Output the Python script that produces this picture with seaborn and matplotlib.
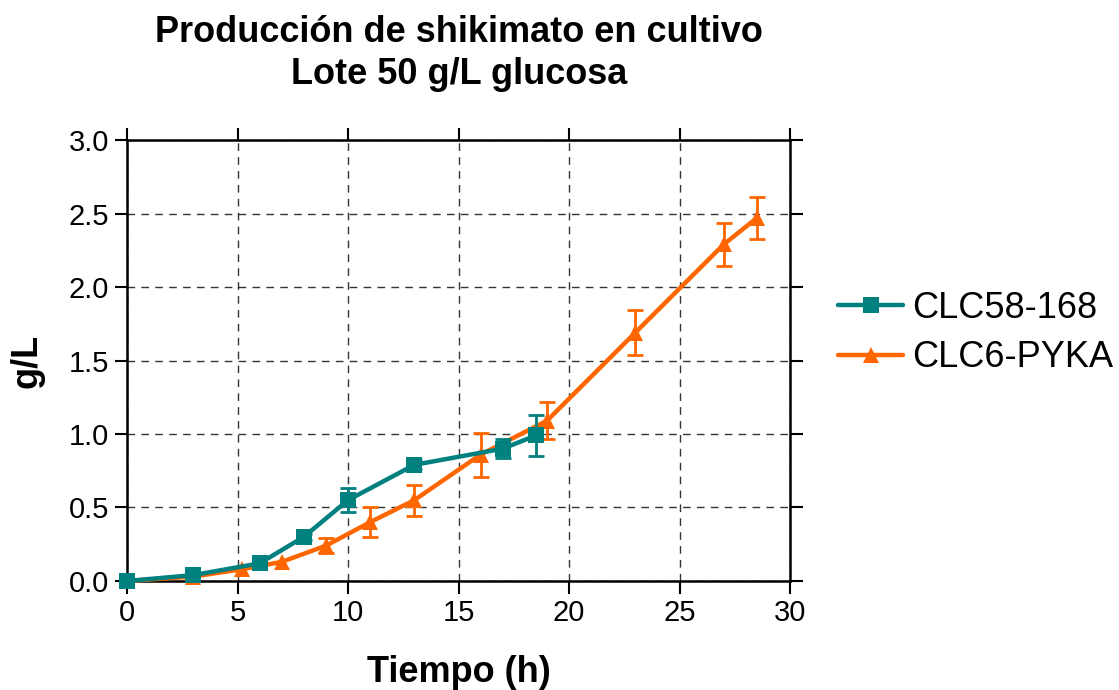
import matplotlib
matplotlib.use("Agg")
import matplotlib.pyplot as plt
import seaborn as sns
import pandas as pd
import numpy as np
from matplotlib.lines import Line2D

sns.set_theme(style="white")
plt.rcParams['font.family'] = ['Liberation Sans', 'DejaVu Sans']
plt.rcParams['text.color'] = 'black'
plt.rcParams['axes.labelcolor'] = 'black'
plt.rcParams['xtick.color'] = 'black'
plt.rcParams['ytick.color'] = 'black'

title = "Producción de shikimato en cultivo\nLote 50 g/L glucosa"
xlabel = "Tiempo (h)"
ylabel = "g/L"

series_names = ["CLC58-168", "CLC6-PYKA"]

t_a = [0, 3, 6, 8, 10, 13, 17, 18.5]
y_a = [0.0, 0.04, 0.12, 0.30, 0.55, 0.79, 0.90, 0.99]
e_a = [0.0, 0.0, 0.0, 0.02, 0.08, 0.03, 0.065, 0.14]

t_b = [0, 3, 5.2, 7, 9, 11, 13, 16, 19, 23, 27, 28.5]
y_b = [0.0, 0.03, 0.08, 0.13, 0.24, 0.40, 0.55, 0.86, 1.09, 1.69, 2.29, 2.47]
e_b = [0.0, 0.0, 0.0, 0.0, 0.05, 0.10, 0.105, 0.15, 0.125, 0.155, 0.145, 0.14]

colors = {"CLC58-168": "#00807e", "CLC6-PYKA": "#ff6600"}
markers = {"CLC58-168": "s", "CLC6-PYKA": "^"}

xticks = [0, 5, 10, 15, 20, 25, 30]
yticks = [0.0, 0.5, 1.0, 1.5, 2.0, 2.5, 3.0]

df_a = pd.DataFrame({"t": t_a, "y": y_a, "e": e_a, "serie": series_names[0]})
df_b = pd.DataFrame({"t": t_b, "y": y_b, "e": e_b, "serie": series_names[1]})

fig = plt.figure(figsize=(11.19, 6.90), dpi=100)
ax = fig.add_axes([0.1135, 0.158, 0.5925, 0.639])

# draw orange first, teal on top
for df, z in [(df_b, 3), (df_a, 4)]:
    name = df["serie"].iloc[0]
    c = colors[name]
    mask = df["e"] > 0
    ax.errorbar(df["t"][mask], df["y"][mask], yerr=df["e"][mask], fmt="none",
                ecolor=c, elinewidth=2, capsize=6, capthick=2, zorder=z, clip_on=False)
    sns.lineplot(data=df, x="t", y="y", ax=ax, color=c, marker=markers[name],
                 markersize=11, markeredgewidth=0, linewidth=3.2, zorder=z,
                 legend=False, clip_on=False, errorbar=None)

ax.set_xlim(0, 30)
ax.set_ylim(0, 3.0)
ax.set_xticks(xticks)
ax.set_yticks(yticks)
ax.set_yticklabels([f"{v:.1f}" for v in yticks])
ax.grid(True, color="#111111", linestyle=(0, (5.5, 4.5)), linewidth=1.0, alpha=0.85)
ax.set_axisbelow(True)

for s in ax.spines.values():
    s.set_visible(True)
    s.set_color("black")
    s.set_linewidth(1.8)

ax.tick_params(axis="both", which="major", direction="out", length=9, width=1.5,
               color="black", labelsize=21, labelcolor="black",
               top=True, right=True, bottom=True, left=True, pad=4)

ax.set_xlabel(xlabel, fontsize=26, fontweight="bold", labelpad=20)
ax.set_ylabel(ylabel, fontsize=26, fontweight="bold", labelpad=17)
fig.suptitle(title, fontsize=26, fontweight="bold", x=0.41, y=0.978, linespacing=1.25)

handles = [Line2D([], [], color=colors[n], marker=markers[n], markersize=11,
                  markeredgewidth=0, linewidth=3.2) for n in series_names]
fig.legend(handles, series_names, loc="center left", bbox_to_anchor=(0.749, 0.517),
           frameon=False, fontsize=26, handlelength=1.8, handletextpad=0.25,
           labelspacing=0.4, borderpad=0, borderaxespad=0)

fig.savefig("out.png", dpi=100)
